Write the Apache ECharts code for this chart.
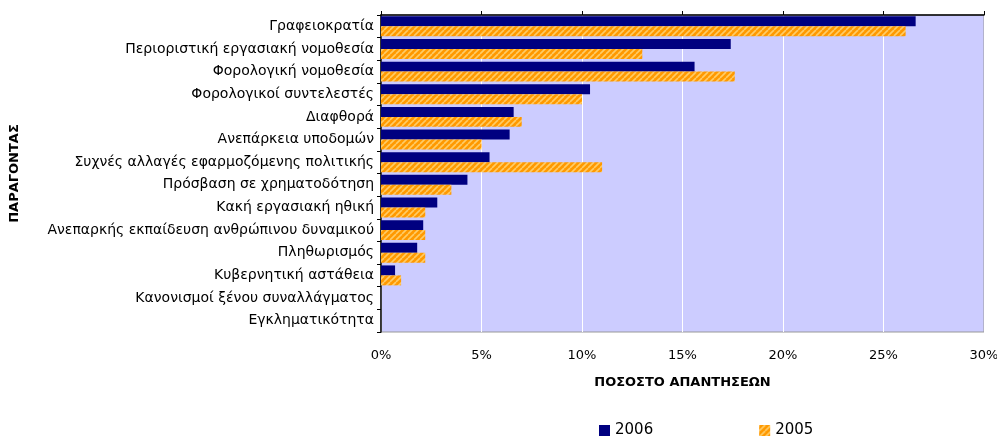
<!DOCTYPE html>
<html>
<head>
<meta charset="utf-8">
<script src="https://cdn.jsdelivr.net/npm/echarts@6/dist/echarts.min.js"></script>
<style>
  html, body { margin: 0; padding: 0; background: #fff; }
  #main { width: 997px; height: 444px; }
</style>
</head>
<body>
<div id="main"></div>
<script>
// δεδομένα
var categories = [
    'Γραφειοκρατία',
    'Περιοριστική εργασιακή νομοθεσία',
    'Φορολογική νομοθεσία',
    'Φορολογικοί συντελεστές',
    'Διαφθορά',
    'Ανεπάρκεια υποδομών',
    'Συχνές αλλαγές εφαρμοζόμενης πολιτικής',
    'Πρόσβαση σε χρηματοδότηση',
    'Κακή εργασιακή ηθική',
    'Ανεπαρκής εκπαίδευση ανθρώπινου δυναμικού',
    'Πληθωρισμός',
    'Κυβερνητική αστάθεια',
    'Κανονισμοί ξένου συναλλάγματος',
    'Εγκληματικότητα'
];
var values2006 = [26.6, 17.4, 15.6, 10.4, 6.6, 6.4, 5.4, 4.3, 2.8, 2.1, 1.8, 0.7, 0, 0];
var values2005 = [26.1, 13.0, 17.6, 10.0, 7.0, 5.0, 11.0, 3.5, 2.2, 2.2, 2.2, 1.0, 0, 0];
var xTicks = [0, 5, 10, 15, 20, 25, 30];

// ριγέ μοτίβο για το 2005
function stripes() {
    var c = document.createElement('canvas');
    c.width = 6; c.height = 6;
    var ctx = c.getContext('2d');
    ctx.fillStyle = '#FF9900';
    ctx.fillRect(0, 0, 6, 6);
    ctx.strokeStyle = '#FFCC66';
    ctx.lineWidth = 1.6;
    for (var k = -6; k <= 12; k += 6) {
        ctx.beginPath();
        ctx.moveTo(k, 6);
        ctx.lineTo(k + 6, 0);
        ctx.stroke();
    }
    return c;
}

var font = 'DejaVu Sans';
var myChart = echarts.init(document.getElementById('main'));
var option = {
    animation: false,
    textStyle: { fontFamily: font },
    grid: {
        left: 381, right: 13, top: 15, bottom: 112,
        outerBoundsMode: 'none', containLabel: false,
        show: true, backgroundColor: '#CCCCFF', borderColor: '#999999', borderWidth: 1
    },
    legend: {
        bottom: 1, left: 594,
        itemWidth: 11, itemHeight: 11, itemGap: 106,
        icon: 'rect',
        textStyle: { fontFamily: font, fontSize: 15, color: '#000' },
        data: ['2006', '2005']
    },
    xAxis: [{
        type: 'value', min: 0, max: 30, interval: 5,
        position: 'bottom',
        name: 'ΠΟΣΟΣΤΟ ΑΠΑΝΤΗΣΕΩΝ', nameLocation: 'middle', nameGap: 44,
        nameTextStyle: { fontFamily: font, fontWeight: 'bold', fontSize: 13, color: '#000' },
        axisLine: { show: false },
        axisTick: { show: false },
        axisLabel: { margin: 17, fontSize: 13, color: '#000', formatter: function (v) { return v + '%'; } },
        splitLine: { show: true, lineStyle: { color: '#FFFFFF', width: 1 } }
    }, {
        type: 'value', min: 0, max: 30, interval: 5,
        position: 'top',
        axisLine: { show: true, lineStyle: { color: '#000', width: 1.5 } },
        axisTick: { show: true, length: 4, lineStyle: { color: '#000' } },
        axisLabel: { show: false },
        splitLine: { show: false }
    }],
    yAxis: {
        type: 'category', data: categories, inverse: true,
        name: 'ΠΑΡΑΓΟΝΤΑΣ', nameLocation: 'middle', nameGap: 360, nameRotate: 90,
        nameTextStyle: { fontFamily: font, fontWeight: 'bold', fontSize: 13, color: '#000' },
        axisLine: { show: true, lineStyle: { color: '#000', width: 1.5 } },
        axisTick: { show: true, length: 4, lineStyle: { color: '#000' } },
        axisLabel: { margin: 7, fontSize: 14, color: '#000' }
    },
    series: [{
        name: '2006', type: 'bar', data: values2006,
        itemStyle: { color: '#000080' },
        barGap: '0%', barCategoryGap: '12%'
    }, {
        name: '2005', type: 'bar', data: values2005,
        itemStyle: { color: { image: stripes(), repeat: 'repeat' } },
        barGap: '0%', barCategoryGap: '12%'
    }]
};
myChart.setOption(option);
</script>
</body>
</html>
